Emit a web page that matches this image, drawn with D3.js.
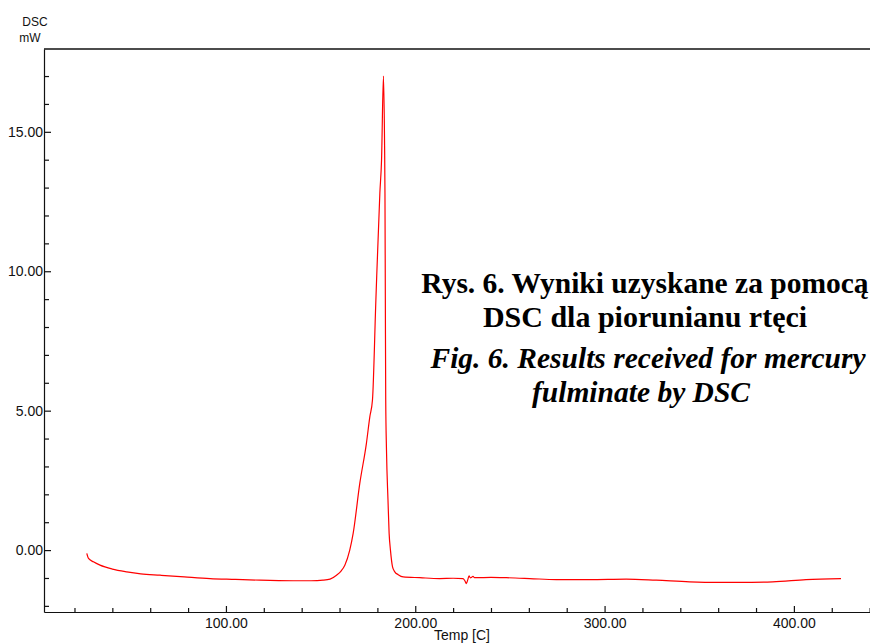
<!DOCTYPE html>
<html>
<head>
<meta charset="utf-8">
<script src="https://cdn.jsdelivr.net/npm/d3@7"></script>
<style>
  html, body { margin: 0; padding: 0; background: #fff; }
  svg { display: block; }
  .tick-label { font-family: "Liberation Sans", Arial, sans-serif; font-size: 14px; fill: #111; }
  .caption { font-family: "Liberation Serif", "Times New Roman", serif; font-size: 30px; fill: #000; }
</style>
</head>
<body>
<svg id="chart" width="870" height="643"></svg>
<script>
// DSC curve (temperature in C, heat flow in mW)
const temps = [26.5, 27.4, 30, 33.5, 40, 47.6, 55, 65.2, 78, 91.6, 105, 118, 135.5, 145, 151.3, 155,
    158.4, 160.8, 162.8, 165.4, 167.2, 170.7, 174.2, 176, 177.4, 179.2, 181.3, 182.2, 183.2,
    183.8, 184.0, 184.2, 184.4, 184.8, 185.6, 186.2, 186.9, 188, 189.2, 191, 193.6, 202.4,
    212.9, 220, 225.2, 226.2, 227, 227.8, 228.4, 229.1, 229.7, 230.5, 231.3, 232.3, 240, 248.1,
    260.4, 274.5, 292.1, 311.4, 327.3, 344.9, 360, 371.2, 388.8, 406.4, 424.9];
const dsc = [-0.12, -0.30, -0.42, -0.54, -0.68, -0.78, -0.85, -0.90, -0.96, -1.02, -1.05, -1.08, -1.10, -1.10, -1.08, -1.04,
    -0.90, -0.75, -0.54, 0.0, 0.6, 2.39, 3.83, 4.78, 5.38, 8.97, 12.8, 14.0, 17.0,
    14.5, 12.8, 9.0, 5.4, 3.6, 1.79, 0.6, 0.0, -0.6, -0.78, -0.88, -0.96, -0.99,
    -1.02, -1.01, -1.02, -1.10, -1.20, -1.05, -0.92, -1.00, -0.98, -0.94, -0.99, -0.99, -0.98, -0.99,
    -1.02, -1.06, -1.06, -1.04, -1.08, -1.14, -1.16, -1.16, -1.14, -1.06, -1.02];

const xMajor = [100, 200, 300, 400];
const xMinor = [20, 40, 60, 80, 120, 140, 160, 180, 220, 240, 260, 280, 320, 340, 360, 380, 420, 440];
const yMajor = [0, 5, 10, 15];
const yMinor = [-2, -1, 1, 2, 3, 4, 6, 7, 8, 9, 11, 12, 13, 14, 16, 17];

const yUnits = ['DSC', 'mW'];
const xTitle = 'Temp [C]';
const captionPl = ['Rys. 6. Wyniki uzyskane za pomocą', 'DSC dla piorunianu rtęci'];
const captionEn = ['Fig. 6. Results received for mercury', 'fulminate by DSC'];

const svg = d3.select('#chart'),
    plotLeft = 44, plotRight = 870, plotTop = 49, plotBottom = 612,
    axisColor = '#111';

const x = d3.scaleLinear().domain([3.9, 440.2]).range([plotLeft, plotRight]);
const y = d3.scaleLinear().domain([-2.22, 17.97]).range([plotBottom, plotTop]);

// frame: left axis, bottom axis and top line
svg.append('line')
    .attr('x1', plotLeft).attr('x2', plotRight).attr('y1', plotTop).attr('y2', plotTop)
    .attr('stroke', axisColor).attr('stroke-width', 1.3);

const xAxis = svg.append('g')
    .attr('transform', 'translate(0,' + plotBottom + ')')
    .call(d3.axisBottom(x).tickValues(xMajor).tickSizeInner(-6).tickSizeOuter(0)
        .tickPadding(6).tickFormat(d3.format('.2f')));

svg.append('g')
    .attr('transform', 'translate(0,' + plotBottom + ')')
    .call(d3.axisBottom(x).tickValues(xMinor).tickSizeInner(-4).tickSizeOuter(0).tickFormat(''))
    .select('.domain').remove();

const yAxis = svg.append('g')
    .attr('transform', 'translate(' + plotLeft + ',0)')
    .call(d3.axisLeft(y).tickValues(yMajor).tickSizeInner(-7).tickSizeOuter(0)
        .tickPadding(1).tickFormat(d3.format('.2f')));

svg.append('g')
    .attr('transform', 'translate(' + plotLeft + ',0)')
    .call(d3.axisLeft(y).tickValues(yMinor).tickSizeInner(-5).tickSizeOuter(0).tickFormat(''))
    .select('.domain').remove();

svg.selectAll('.domain, .tick line')
    .attr('stroke', axisColor)
    .attr('stroke-width', 1.2);

xAxis.selectAll('.tick text').attr('class', 'tick-label');
yAxis.selectAll('.tick text').attr('class', 'tick-label').attr('x', -1);
svg.selectAll('g').attr('font-family', null).attr('font-size', null);

// axis titles
svg.selectAll('.unit')
    .data(yUnits)
    .enter().append('text')
    .attr('class', 'tick-label unit')
    .attr('x', (d, i) => i ? 30 : 35)
    .attr('y', (d, i) => 26 + i * 16)
    .attr('text-anchor', 'middle')
    .style('font-size', '12px')
    .text(d => d);

svg.append('text')
    .attr('class', 'tick-label')
    .attr('x', 462)
    .attr('y', 640)
    .attr('text-anchor', 'middle')
    .text(xTitle);

// curve
const line = d3.line()
    .x((d, i) => x(temps[i]))
    .y(d => y(d))
    .curve(d3.curveMonotoneX);

svg.append('path')
    .datum(dsc)
    .attr('fill', 'none')
    .attr('stroke', '#ff0000')
    .attr('stroke-width', 1.2)
    .attr('d', line);

// caption
svg.selectAll('.cap-pl')
    .data(captionPl)
    .enter().append('text')
    .attr('class', 'caption cap-pl')
    .attr('x', 645)
    .attr('y', (d, i) => 293 + i * 34)
    .attr('text-anchor', 'middle')
    .attr('font-weight', 'bold')
    .style('font-size', (d, i) => i ? '30px' : '29.5px')
    .text(d => d);

svg.selectAll('.cap-en')
    .data(captionEn)
    .enter().append('text')
    .attr('class', 'caption cap-en')
    .attr('x', (d, i) => i ? 641 : 648)
    .attr('y', (d, i) => 368 + i * 34)
    .attr('text-anchor', 'middle')
    .attr('font-style', 'italic')
    .attr('font-weight', 'bold')
    .style('font-size', '29.5px')
    .text(d => d);
</script>
</body>
</html>
